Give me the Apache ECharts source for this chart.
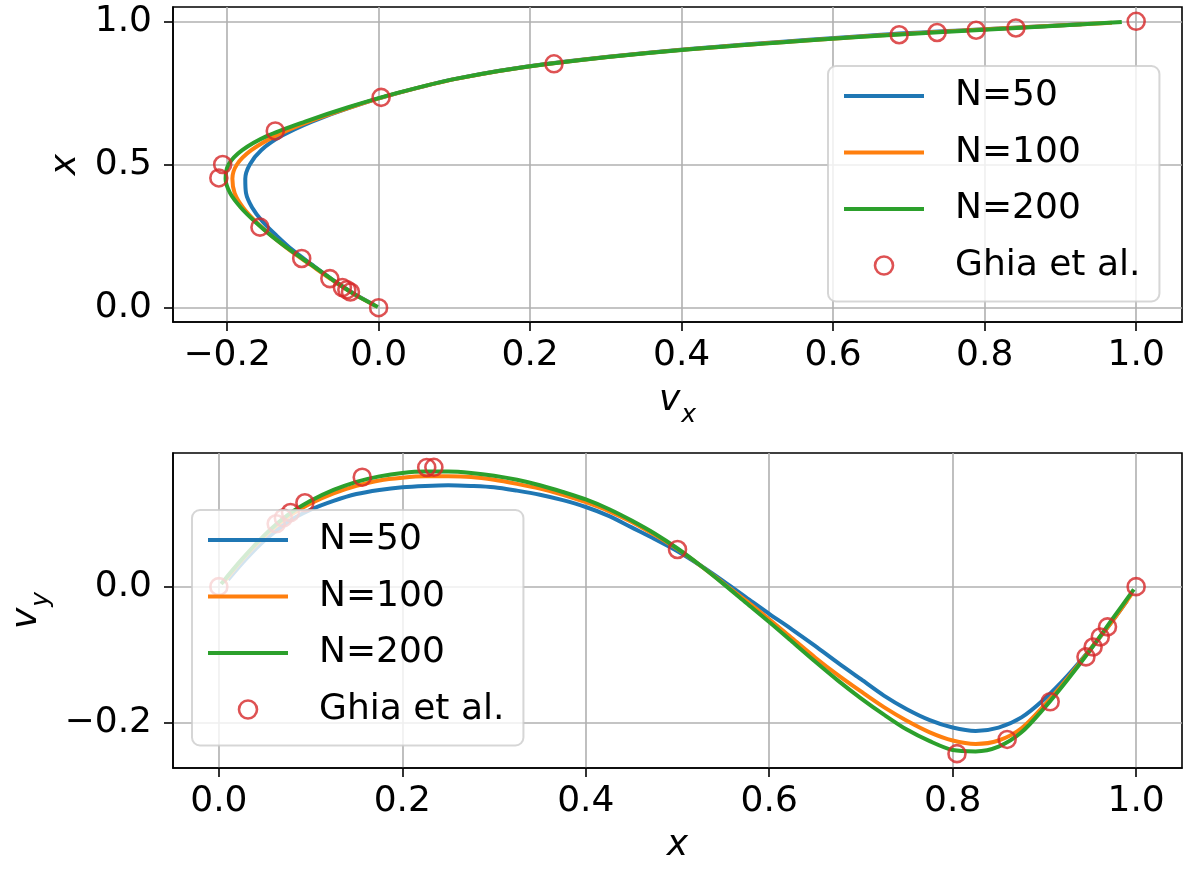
<!DOCTYPE html>
<html>
<head>
<meta charset="utf-8">
<script src="https://cdn.jsdelivr.net/npm/echarts@6/dist/echarts.min.js"></script>
<style>
  html, body { margin: 0; padding: 0; background: #ffffff; }
  #chart { width: 1191px; height: 871px; }
</style>
</head>
<body>
<div id="chart"></div>
<script>
// ---- Horizontal velocity v_x along the vertical centre line (plotted against x) ----
const yN50  = [0.01, 0.05, 0.1, 0.15, 0.2, 0.25, 0.3, 0.35, 0.4, 0.45, 0.5, 0.55, 0.6, 0.65, 0.7, 0.75, 0.8, 0.85, 0.9, 0.95, 0.97, 0.99];
const vxN50 = [-0.006, -0.033, -0.062, -0.088, -0.113, -0.134, -0.153, -0.167, -0.175, -0.176, -0.170, -0.155, -0.128, -0.088, -0.037, 0.026, 0.103, 0.218, 0.395, 0.645, 0.780, 0.928];

const yN100  = [0.005, 0.05, 0.1, 0.15, 0.2, 0.25, 0.3, 0.35, 0.4, 0.45, 0.5, 0.55, 0.6, 0.65, 0.7, 0.75, 0.8, 0.85, 0.9, 0.95, 0.975, 0.995];
const vxN100 = [-0.003, -0.034, -0.063, -0.090, -0.117, -0.141, -0.162, -0.179, -0.190, -0.193, -0.187, -0.168, -0.136, -0.092, -0.037, 0.026, 0.104, 0.220, 0.398, 0.655, 0.820, 0.968];

const yN200  = [0.0025, 0.05, 0.1, 0.15, 0.2, 0.25, 0.3, 0.35, 0.4, 0.45, 0.5, 0.55, 0.6, 0.65, 0.7, 0.75, 0.8, 0.85, 0.9, 0.95, 0.975, 0.9975];
const vxN200 = [-0.001, -0.034, -0.062, -0.089, -0.116, -0.141, -0.163, -0.182, -0.196, -0.202, -0.198, -0.180, -0.147, -0.097, -0.040, 0.025, 0.103, 0.220, 0.400, 0.660, 0.830, 0.981];

// Ghia et al. (1982), Re = 100
const ghiaY  = [1.0000, 0.9766, 0.9688, 0.9609, 0.9531, 0.8516, 0.7344, 0.6172, 0.5000, 0.4531, 0.2813, 0.1719, 0.1016, 0.0703, 0.0625, 0.0547, 0.0000];
const ghiaVx = [1.00000, 0.84123, 0.78871, 0.73722, 0.68717, 0.23151, 0.00332, -0.13641, -0.20581, -0.21090, -0.15662, -0.10150, -0.06434, -0.04775, -0.04192, -0.03717, 0.00000];

// ---- Vertical velocity v_y along the horizontal centre line ----
const xN50  = [0.01, 0.03, 0.05, 0.075, 0.1, 0.125, 0.15, 0.175, 0.2, 0.225, 0.25, 0.275, 0.3, 0.325, 0.35, 0.375, 0.4, 0.425, 0.45, 0.475, 0.5, 0.525, 0.55, 0.575, 0.6, 0.625, 0.65, 0.675, 0.7, 0.725, 0.75, 0.775, 0.8, 0.825, 0.85, 0.875, 0.9, 0.925, 0.95, 0.97, 0.99];
const vyN50 = [0.010, 0.041, 0.068, 0.095, 0.113, 0.126, 0.136, 0.142, 0.146, 0.148, 0.149, 0.148, 0.146, 0.141, 0.135, 0.127, 0.117, 0.104, 0.087, 0.070, 0.052, 0.031, 0.008, -0.016, -0.040, -0.063, -0.087, -0.112, -0.136, -0.160, -0.180, -0.196, -0.207, -0.212, -0.207, -0.192, -0.165, -0.131, -0.092, -0.058, -0.021];

const xN100  = [0.005, 0.025, 0.05, 0.075, 0.1, 0.125, 0.15, 0.175, 0.2, 0.225, 0.25, 0.275, 0.3, 0.325, 0.35, 0.375, 0.4, 0.425, 0.45, 0.475, 0.5, 0.525, 0.55, 0.575, 0.6, 0.625, 0.65, 0.675, 0.7, 0.725, 0.75, 0.775, 0.8, 0.825, 0.85, 0.875, 0.9, 0.925, 0.95, 0.975, 0.995];
const vyN100 = [0.006, 0.039, 0.074, 0.102, 0.122, 0.137, 0.148, 0.156, 0.160, 0.162, 0.162, 0.161, 0.157, 0.151, 0.144, 0.135, 0.124, 0.111, 0.095, 0.076, 0.055, 0.031, 0.005, -0.021, -0.048, -0.076, -0.104, -0.130, -0.154, -0.177, -0.197, -0.214, -0.226, -0.231, -0.226, -0.208, -0.174, -0.135, -0.092, -0.049, -0.011];

const xN200  = [0.0025, 0.025, 0.05, 0.075, 0.1, 0.125, 0.15, 0.175, 0.2, 0.225, 0.25, 0.275, 0.3, 0.325, 0.35, 0.375, 0.4, 0.425, 0.45, 0.475, 0.5, 0.525, 0.55, 0.575, 0.6, 0.625, 0.65, 0.675, 0.7, 0.725, 0.75, 0.775, 0.8, 0.825, 0.85, 0.875, 0.9, 0.925, 0.95, 0.975, 0.9975];
const vyN200 = [0.004, 0.040, 0.076, 0.105, 0.126, 0.142, 0.154, 0.162, 0.167, 0.169, 0.169, 0.167, 0.163, 0.157, 0.149, 0.139, 0.128, 0.114, 0.097, 0.078, 0.056, 0.031, 0.004, -0.024, -0.052, -0.081, -0.110, -0.138, -0.164, -0.188, -0.210, -0.227, -0.240, -0.242, -0.235, -0.214, -0.178, -0.137, -0.093, -0.046, -0.004];

const ghiaX  = [1.0000, 0.9688, 0.9609, 0.9531, 0.9453, 0.9063, 0.8594, 0.8047, 0.5000, 0.2344, 0.2266, 0.1563, 0.0938, 0.0781, 0.0703, 0.0625, 0.0000];
const ghiaVy = [0.00000, -0.05906, -0.07391, -0.08864, -0.10313, -0.16914, -0.22445, -0.24533, 0.05454, 0.17527, 0.17507, 0.16077, 0.12317, 0.10890, 0.10091, 0.09233, 0.00000];

// Tick labels
const topXTicks = [-0.2, 0.0, 0.2, 0.4, 0.6, 0.8, 1.0];
const topYTicks = [0.0, 0.5, 1.0];
const botXTicks = [0.0, 0.2, 0.4, 0.6, 0.8, 1.0];
const botYTicks = [-0.2, 0.0];

const seriesNames = ['N=50', 'N=100', 'N=200', 'Ghia et al.'];
const lineColors = ['#1f77b4', '#ff7f0e', '#2ca02c'];
const markerColor = '#d62728';

const FONT = 'DejaVu Sans';
const fmt = v => (v < 0 ? '\u2212' : '') + Math.abs(v).toFixed(1);
const pairs = (xs, ys) => xs.map((x, i) => [x, ys[i]]);

function makeAxis(gridIndex, min, max, ticks, isY, name, nameGap, nameStyle) {
  return {
    type: 'value', gridIndex, min, max,
    axisLine: { show: true, onZero: false, lineStyle: { color: '#000', width: 1.6 } },
    axisTick: { show: true, inside: false, length: 9, customValues: ticks, lineStyle: { color: '#000', width: 1.6 } },
    axisLabel: {
      customValues: ticks, formatter: fmt, fontSize: 36, fontFamily: FONT, color: '#000',
      margin: isY ? 21 : 16
    },
    splitLine: { show: true, lineStyle: { color: '#b0b0b0', width: 1.6 } },
    name, nameLocation: 'middle', nameGap, nameTextStyle: nameStyle
  };
}

const italic = { fontFamily: FONT, fontStyle: 'italic', fontSize: 36, color: '#000' };
const subName = {
  rich: {
    v: { fontFamily: FONT, fontStyle: 'italic', fontSize: 36, color: '#000', lineHeight: 46, verticalAlign: 'bottom', padding: [0, 0, 9, 0] },
    s: { fontFamily: FONT, fontStyle: 'italic', fontSize: 25, color: '#000', lineHeight: 46, verticalAlign: 'bottom', padding: [0, 0, 0, 1] }
  }
};

const lineSeries = (name, color, data, xi, yi) => ({
  name, type: 'line', xAxisIndex: xi, yAxisIndex: yi, data,
  symbol: 'none', showSymbol: false, smooth: 0.3,
  lineStyle: { color, width: 4 }, itemStyle: { color }, z: 2
});
const ghiaSeries = (data, xi, yi) => ({
  name: 'Ghia et al.', type: 'scatter', xAxisIndex: xi, yAxisIndex: yi, data,
  symbol: 'circle', symbolSize: 17,
  itemStyle: { color: 'rgba(0,0,0,0)', borderColor: markerColor, borderWidth: 2.6 }, z: 3
});

function makeLegend(left, top) {
  return {
    data: seriesNames.map((n, i) => i < 3
      ? { name: n, itemStyle: { opacity: 0 }, lineStyle: { color: lineColors[i], width: 4, opacity: 1 } }
      : { name: n, itemStyle: { color: 'rgba(0,0,0,0)', borderColor: markerColor, borderWidth: 2.6 } }),
    orient: 'vertical', left, top, align: 'left',
    itemWidth: 80, itemHeight: 18, itemGap: 16.5,
    padding: [10, 19, 16, 14],
    backgroundColor: 'rgba(255,255,255,0.8)',
    borderColor: 'rgba(204,204,204,0.8)', borderWidth: 2, borderRadius: 8,
    lineStyle: { width: 4 },
    textStyle: { fontSize: 36, fontFamily: FONT, color: '#000', lineHeight: 40, padding: [0, 0, 0, 26] },
    selectedMode: false
  };
}

const option = {
  animation: false,
  backgroundColor: '#ffffff',
  grid: [
    { left: 173, top: 7, width: 1009, height: 315, show: true, borderColor: '#000', borderWidth: 1.6, outerBoundsMode: 'none', containLabel: false },
    { left: 173, top: 453, width: 1009, height: 315, show: true, borderColor: '#000', borderWidth: 1.6, outerBoundsMode: 'none', containLabel: false }
  ],
  xAxis: [
    makeAxis(0, -0.2714, 1.0605, topXTicks, false, '{v|v}{s|x}', 60, subName),
    makeAxis(1, -0.05, 1.05, botXTicks, false, 'x', 60, italic)
  ],
  yAxis: [
    makeAxis(0, -0.05, 1.05, topYTicks, true, 'x', 88, italic),
    makeAxis(1, -0.2664, 0.1963, botYTicks, true, '{v|v}{s|y}', 118, subName)
  ],
  legend: [makeLegend(828, 66), makeLegend(192, 510)],
  series: [
    lineSeries('N=50', lineColors[0], pairs(vxN50, yN50), 0, 0),
    lineSeries('N=100', lineColors[1], pairs(vxN100, yN100), 0, 0),
    lineSeries('N=200', lineColors[2], pairs(vxN200, yN200), 0, 0),
    ghiaSeries(pairs(ghiaVx, ghiaY), 0, 0),
    lineSeries('N=50', lineColors[0], pairs(xN50, vyN50), 1, 1),
    lineSeries('N=100', lineColors[1], pairs(xN100, vyN100), 1, 1),
    lineSeries('N=200', lineColors[2], pairs(xN200, vyN200), 1, 1),
    ghiaSeries(pairs(ghiaX, ghiaVy), 1, 1)
  ]
};

const chart = echarts.init(document.getElementById('chart'), null, { renderer: 'canvas' });
chart.setOption(option);
</script>
</body>
</html>
